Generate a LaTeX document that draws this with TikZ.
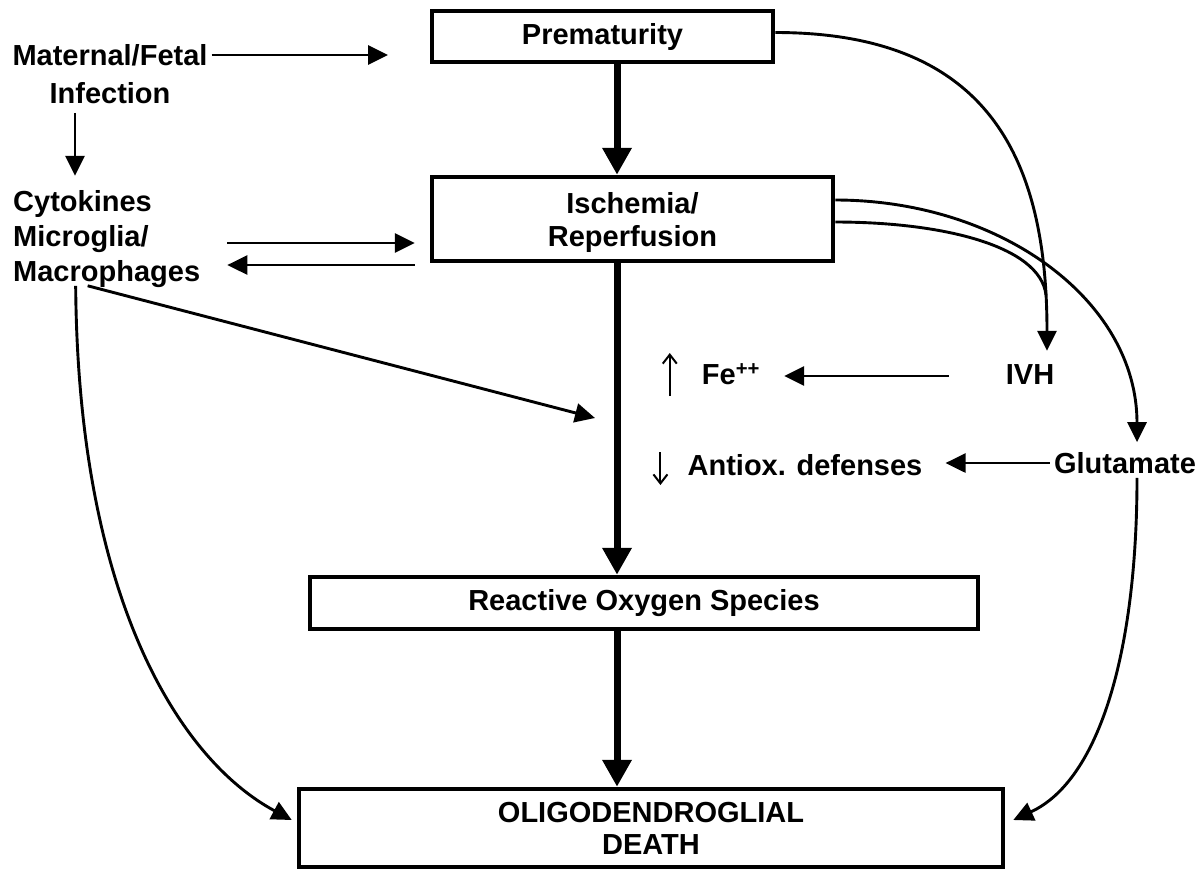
\documentclass[tikz,border=0pt]{standalone}
\usepackage{fontspec}
\setmainfont{Liberation Sans}
\usetikzlibrary{arrows.meta}
\begin{document}
\begin{tikzpicture}[x=1pt,y=-1pt,
  every node/.style={font=\fontsize{29}{35}\selectfont\bfseries, inner sep=4pt},
  box/.style={draw, line width=4.5pt, inner sep=0pt, align=center},
  mainarr/.style={line width=7pt, -{Triangle[length=27pt,width=28pt]}},
  sidearr/.style={line width=2.9pt, -{Triangle[length=20pt,width=19pt]}},
  trend/.style={line width=2pt, -{Straight Barb[length=9pt,width=14pt]}}]
\useasboundingbox[fill=white] (0,0) rectangle (1198,871);
% boxes down the middle
\node[box, minimum width=341pt, minimum height=51pt] (prem) at (602.5,36.5) {Prematurity};
\node[box, minimum width=401pt, minimum height=84pt, font=\fontsize{29}{33}\selectfont\bfseries] (isch) at (632.5,219) {\raisebox{-4pt}[\height][\depth]{\begin{tabular}{@{}c@{}}Ischemia/\\Reperfusion\end{tabular}}};
\node[box, minimum width=668pt, minimum height=52pt] (ros) at (644,603) {Reactive Oxygen Species};
\node[box, minimum width=704pt, minimum height=78pt, font=\fontsize{29}{32}\selectfont\bfseries] (death) at (651,828) {OLIGODENDROGLIAL\\DEATH};
% side texts
\node[align=center, font=\fontsize{29}{38}\selectfont\bfseries] (mat) at (110,74) {Maternal/Fetal\\Infection};
\node[align=left, anchor=west] (cyto) at (9,239) {Cytokines\\Microglia/\\Macrophages};
\node (fe) at (731,374) {Fe\textsuperscript{++}};
\node (ant) at (805,465) {Antiox. defenses};
\node (ivh) at (1030,375) {IVH};
\node (glu) at (1125,463) {Glutamate};
\coordinate (spine) at (617,0);
\coordinate (matgo) at (388,55);
\coordinate (rosin) at (595,418);
\coordinate (join) at (1046,295);
% main chain
\draw[mainarr] (prem.south -| spine) -- (isch.north -| spine);
\draw[mainarr] (isch.south -| spine) -- (ros.north -| spine);
\draw[mainarr] (ros.south -| spine) -- (death.north -| spine);
% left side
\draw[sidearr] (mat.east |- matgo) -- (matgo);
\draw[sidearr] ([shift={(-35,5)}]mat.south) -- ++(0,63);
\draw[sidearr] ([shift={(23,4)}]cyto.east) -- ([shift={(-15,24)}]isch.west);
\draw[sidearr] ([shift={(-15,46)}]isch.west) -- ([shift={(23,26)}]cyto.east);
\draw[sidearr] ([shift={(-19,-6)}]cyto.south) -- (rosin);
\draw[sidearr] ([shift={(-31,-6)}]cyto.south) .. controls (78,600) and (180,760) .. ([shift={(-5,-8)}]death.west);
% right side
\draw[sidearr] ([shift={(0,-4)}]prem.east) .. controls +(215,0) and +(0,-190) .. ([shift={(17,-10)}]ivh.north);
\draw[sidearr] ([shift={(0,-19)}]isch.east) .. controls (1000,200) and (1137,300) .. ([shift={(12,-6)}]glu.north);
\draw[line width=2.9pt] ([shift={(0,3)}]isch.east) .. controls (940,222) and (1040,245) .. (join);
\draw[sidearr] ([shift={(-53,1)}]ivh.west) -- ([shift={(20,2)}]fe.east);
\draw[sidearr] (glu.west) -- ([shift={(19,-2)}]ant.east);
\draw[sidearr] ([shift={(12,0)}]glu.south) .. controls (1137,650) and (1100,780) .. ([shift={(8,-8)}]death.east);
% up / down marks
\draw[trend] ([shift={(-28,22)}]fe.west) -- ++(0,-43);
\draw[trend] ([shift={(-23,-13)}]ant.west) -- ++(0,33);
\end{tikzpicture}
\end{document}
